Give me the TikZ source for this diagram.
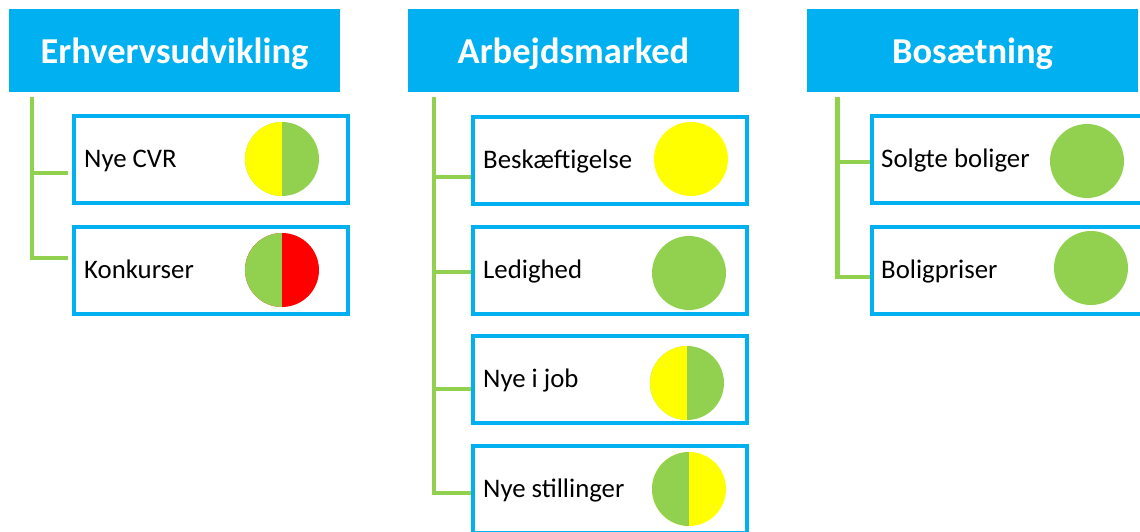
\documentclass[tikz,border=0pt]{standalone}
\usepackage{fontspec}
\setmainfont{Carlito}
\usetikzlibrary{positioning,calc}

\definecolor{hdrblue}{RGB}{0,176,240}
\definecolor{lgreen}{RGB}{146,208,80}
\definecolor{sigyellow}{RGB}{255,255,0}
\definecolor{sigred}{RGB}{255,0,0}

\tikzset{
  header/.style={fill=hdrblue, text=white, inner sep=0pt, text depth=0pt, minimum width=331pt, minimum height=83pt, font=\bfseries\fontsize{36.5}{40}\selectfont},
  itembox/.style={draw=hdrblue, line width=4pt, inner sep=0pt, minimum width=274pt, minimum height=87pt},
  itemtext/.style={inner sep=0pt, anchor=base west, font=\fontsize{26.8}{30}\selectfont},
  dot/.style={circle, inner sep=0pt, minimum size=74pt, fill=#1},
  halfdot/.style 2 args={circle, inner sep=0pt, minimum size=74pt, fill=#2,
    path picture={\fill[#1] (path picture bounding box.south west) rectangle (path picture bounding box.north);}},
  stem/.style={draw=lgreen, line width=4.5pt}
}

\begin{document}
\begin{tikzpicture}[x=1pt,y=1pt,yscale=-1,xscale=1]
\useasboundingbox (0,0) rectangle (1140,531);

%Shape: Rectangle (headers)
\node[header] (h1) at (174.5,50.5) {Erhvervsudvikling};
\node[header] (h2) at (573.5,50.5) {Arbejdsmarked};
\node[header] (h3) at (972.5,50.5) {Bosætning};

%Straight Lines (tree roots)
\coordinate (r1) at (32,97);
\coordinate (r2) at (434,97);
\coordinate (r3) at (837.5,97);

%Shape: Rectangle (item boxes)
\node[itembox] (b11) at (211,159.5) {};
\node[itembox] (b12) at (211,270) {};
\node[itembox] (b21) at (610,160) {};
\node[itembox] (b22) at (610,270) {};
\node[itembox] (b23) at (610,379.5) {};
\node[itembox] (b24) at (610,489.5) {};
\node[itembox] (b31) at (1009,159.5) {};
\node[itembox] (b32) at (1009,270) {};

%Straight Lines (branches)
\draw[stem] (r1) |- ($(b11.west)+(-4,13.5)$);
\draw[stem] (r1) |- ($(b12.west)+(-4,-12)$);
\draw[stem] (r2) |- ($(b21.west)+(0,17)$);
\draw[stem] (r2) |- ($(b22.west)+(0,2)$);
\draw[stem] (r2) |- ($(b23.west)+(0,9.5)$);
\draw[stem] (r2) |- ($(b24.west)+(0,3.5)$);
\draw[stem] (r3) |- ($(b31.west)+(0,2.5)$);
\draw[stem] (r3) |- ($(b32.west)+(0,7)$);

% Text Node
\node[itemtext] (t11) at ($(b11.west)+(12,8)$) {Nye CVR};
\node[itemtext] (t12) at ($(b12.west)+(12,8)$) {Konkurser};
\node[itemtext] (t21) at ($(b21.west)+(12,8)$) {Beskæftigelse};
\node[itemtext] (t22) at ($(b22.west)+(12,8)$) {Ledighed};
\node[itemtext] (t23) at ($(b23.west)+(12,8)$) {Nye i job};
\node[itemtext] (t24) at ($(b24.west)+(12,8)$) {Nye stillinger};
\node[itemtext] (t31) at ($(b31.west)+(11,8)$) {Solgte boliger};
\node[itemtext] (t32) at ($(b32.west)+(11,8)$) {Boligpriser};

%Shape: Circle (status dots)
\node[halfdot={sigyellow}{lgreen}] (d11) at (282,159) {};
\node[halfdot={lgreen}{sigred}] (d12) at (282,270) {};
\node[dot=sigyellow] (d21) at (691,159) {};
\node[dot=lgreen] (d22) at (689,273) {};
\node[halfdot={sigyellow}{lgreen}] (d23) at (687,383) {};
\node[halfdot={lgreen}{sigyellow}] (d24) at (689,489) {};
\node[dot=lgreen] (d31) at (1087,161) {};
\node[dot=lgreen] (d32) at (1091,268) {};

\end{tikzpicture}
\end{document}
